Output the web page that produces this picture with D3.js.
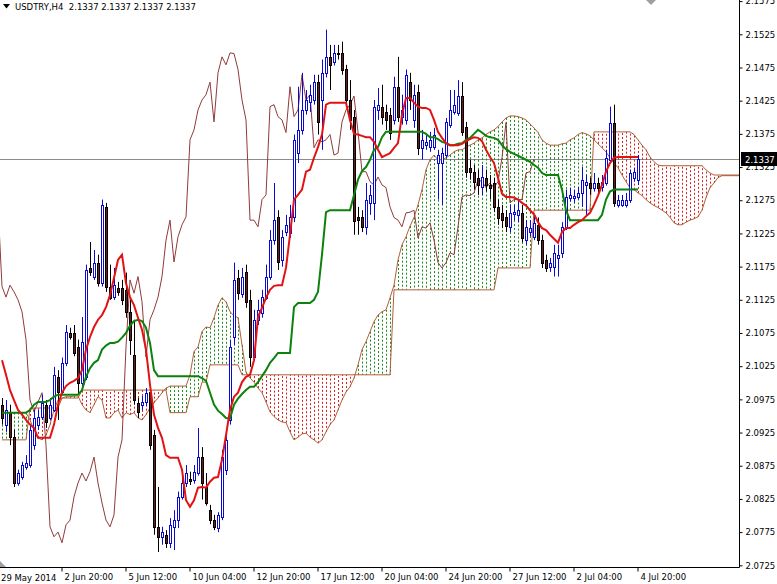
<!DOCTYPE html>
<html><head><meta charset="utf-8">
<script src="https://cdn.jsdelivr.net/npm/d3@7"></script>
<style>body{margin:0;background:#fff}svg{display:block}</style>
</head><body><svg id="c" width="777" height="584"></svg>
<script>
const symbolName = "USDTRY,H4";
const lastPrice = 2.1337;
const firstDateLabel = "29 May 2014";
const timeTickIndex = [15,31,47,63,79,95,111,127,143,159];
const timeTickLabels = ["2 Jun 20:00","5 Jun 12:00","10 Jun 04:00","12 Jun 20:00","17 Jun 12:00","20 Jun 04:00","24 Jun 20:00","27 Jun 12:00","2 Jul 04:00","4 Jul 20:00"];
const priceTicks = [2.0725,2.0775,2.0825,2.0875,2.0925,2.0975,2.1025,2.1075,2.1125,2.1175,2.1225,2.1275,2.1325,2.1375,2.1425,2.1475,2.1525,2.1575];

const opens = [2.0967,2.0937,2.0956,2.0918,2.0849,2.0858,2.0873,2.0876,2.0906,2.0937,
2.0949,2.0967,2.0947,2.0959,2.1009,2.0986,2.1030,2.1075,2.1075,2.1054,
2.1000,2.1009,2.1173,2.1160,2.1181,2.1151,2.1265,2.1145,2.1129,2.1143,
2.1143,2.1140,2.1107,2.1042,2.0970,2.0967,2.0971,2.0986,2.0921,2.0783,
2.0768,2.0771,2.0759,2.0783,2.0793,2.0828,2.0849,2.0855,2.0854,2.0864,
2.0888,2.0843,2.0808,2.0793,2.0781,2.0798,2.0869,2.0944,2.1069,2.1158,
2.1135,2.1167,2.1125,2.1039,2.1095,2.1105,2.1129,2.1160,2.1215,2.1250,
2.1185,2.1227,2.1226,2.1250,2.1346,2.1381,2.1411,2.1423,2.1426,2.1453,
2.1426,2.1467,2.1491,2.1484,2.1497,2.1497,2.1472,2.1426,2.1401,2.1250,
2.1250,2.1235,2.1271,2.1271,2.1411,2.1416,2.1408,2.1404,2.1396,2.1446,
2.1401,2.1396,2.1453,2.1396,2.1438,2.1354,2.1359,2.1356,2.1356,2.1331,
2.1331,2.1343,2.1389,2.1408,2.1407,2.1432,2.1386,2.1324,2.1318,2.1309,
2.1295,2.1309,2.1298,2.1301,2.1265,2.1256,2.1249,2.1235,2.1254,2.1253,
2.1256,2.1215,2.1227,2.1220,2.1238,2.1215,2.1185,2.1175,2.1175,2.1188,
2.1196,2.1235,2.1279,2.1279,2.1280,2.1286,2.1298,2.1301,2.1294,2.1301,
2.1295,2.1301,2.1336,2.1392,2.1268,2.1268,2.1268,2.1276,2.1309,2.1306];
const highs = [2.0977,2.0974,2.0967,2.0929,2.0869,2.0881,2.0891,2.0937,2.0959,2.0959,
2.0982,2.0974,2.0977,2.1024,2.1019,2.1038,2.1087,2.1083,2.1087,2.1065,
2.1099,2.1178,2.1212,2.1200,2.1193,2.1276,2.1271,2.1178,2.1173,2.1152,
2.1155,2.1166,2.1125,2.1095,2.0977,2.0980,2.0992,2.0997,2.0929,2.0843,
2.0783,2.0778,2.0796,2.0808,2.0836,2.0869,2.0876,2.0866,2.0876,2.0932,
2.0903,2.0864,2.0816,2.0801,2.0805,2.0899,2.0926,2.1065,2.1181,2.1170,
2.1173,2.1178,2.1140,2.1110,2.1125,2.1140,2.1178,2.1230,2.1301,2.1260,
2.1230,2.1253,2.1268,2.1374,2.1446,2.1467,2.1441,2.1449,2.1464,2.1464,
2.1487,2.1532,2.1509,2.1509,2.1509,2.1514,2.1479,2.1456,2.1411,2.1265,
2.1260,2.1301,2.1298,2.1426,2.1444,2.1449,2.1419,2.1414,2.1461,2.1491,
2.1434,2.1472,2.1467,2.1449,2.1449,2.1381,2.1374,2.1378,2.1384,2.1351,
2.1354,2.1399,2.1441,2.1441,2.1456,2.1453,2.1393,2.1336,2.1328,2.1321,
2.1328,2.1321,2.1313,2.1309,2.1276,2.1268,2.1260,2.1268,2.1268,2.1276,
2.1268,2.1245,2.1245,2.1253,2.1249,2.1223,2.1193,2.1188,2.1208,2.1208,
2.1242,2.1291,2.1294,2.1291,2.1295,2.1325,2.1313,2.1309,2.1316,2.1309,
2.1313,2.1351,2.1416,2.1419,2.1283,2.1283,2.1286,2.1321,2.1324,2.1343];
const lows = [2.0937,2.0926,2.0906,2.0843,2.0845,2.0854,2.0869,2.0872,2.0899,2.0929,
2.0944,2.0932,2.0944,2.0956,2.0944,2.0982,2.1025,2.1065,2.1040,2.0982,
2.0995,2.1004,2.1161,2.1155,2.1145,2.1145,2.1137,2.1125,2.1125,2.1131,
2.1117,2.1098,2.1042,2.0967,2.0947,2.0959,2.0965,2.0899,2.0771,2.0745,
2.0756,2.0751,2.0751,2.0748,2.0781,2.0824,2.0843,2.0846,2.0848,2.0860,
2.0824,2.0815,2.0787,2.0778,2.0775,2.0793,2.0861,2.0937,2.1057,2.1125,
2.1128,2.1113,2.1024,2.1035,2.1087,2.1098,2.1125,2.1155,2.1208,2.1170,
2.1175,2.1221,2.1218,2.1242,2.1331,2.1374,2.1404,2.1408,2.1419,2.1374,
2.1351,2.1460,2.1441,2.1478,2.1487,2.1464,2.1419,2.1381,2.1223,2.1223,
2.1227,2.1223,2.1253,2.1245,2.1396,2.1389,2.1381,2.1366,2.1389,2.1393,
2.1389,2.1389,2.1411,2.1384,2.1343,2.1336,2.1351,2.1348,2.1351,2.1276,
2.1268,2.1339,2.1384,2.1404,2.1402,2.1372,2.1309,2.1306,2.1291,2.1283,
2.1283,2.1288,2.1276,2.1257,2.1238,2.1233,2.1227,2.1227,2.1245,2.1242,
2.1212,2.1208,2.1221,2.1215,2.1208,2.1173,2.1167,2.1167,2.1160,2.1160,
2.1188,2.1230,2.1273,2.1271,2.1276,2.1265,2.1250,2.1283,2.1288,2.1286,
2.1288,2.1297,2.1331,2.1265,2.1264,2.1265,2.1264,2.1271,2.1303,2.1298];
const closes = [2.0947,2.0959,2.0918,2.0849,2.0864,2.0876,2.0879,2.0929,2.0947,2.0949,
2.0970,2.0941,2.0967,2.1012,2.0986,2.1030,2.1077,2.1069,2.1045,2.1000,
2.1062,2.1170,2.1167,2.1181,2.1151,2.1268,2.1145,2.1129,2.1147,2.1137,
2.1125,2.1107,2.1065,2.0974,2.0956,2.0971,2.0985,2.0906,2.0783,2.0768,
2.0775,2.0759,2.0786,2.0793,2.0828,2.0849,2.0864,2.0852,2.0866,2.0888,
2.0849,2.0819,2.0793,2.0783,2.0801,2.0888,2.0914,2.1054,2.1155,2.1135,
2.1160,2.1122,2.1039,2.1095,2.1110,2.1129,2.1160,2.1215,2.1245,2.1182,
2.1220,2.1238,2.1250,2.1366,2.1381,2.1411,2.1426,2.1434,2.1453,2.1393,
2.1467,2.1491,2.1479,2.1497,2.1496,2.1472,2.1426,2.1396,2.1245,2.1245,
2.1235,2.1276,2.1283,2.1416,2.1419,2.1401,2.1396,2.1377,2.1446,2.1401,
2.1411,2.1464,2.1426,2.1434,2.1354,2.1366,2.1363,2.1366,2.1374,2.1343,
2.1346,2.1393,2.1411,2.1419,2.1432,2.1378,2.1318,2.1318,2.1303,2.1298,
2.1310,2.1298,2.1294,2.1265,2.1249,2.1245,2.1235,2.1256,2.1257,2.1260,
2.1218,2.1235,2.1233,2.1241,2.1215,2.1181,2.1173,2.1181,2.1196,2.1193,
2.1235,2.1280,2.1283,2.1282,2.1286,2.1306,2.1303,2.1294,2.1301,2.1294,
2.1303,2.1339,2.1392,2.1271,2.1276,2.1276,2.1276,2.1316,2.1318,2.1337];

const tenkan = [2.1034,2.1012,2.0989,2.0974,2.0959,2.0952,2.0944,2.0937,2.0932,2.0917,
2.0917,2.0917,2.0917,2.0937,2.0967,2.0985,2.0995,2.1000,2.1003,2.1007,
2.1019,2.1050,2.1069,2.1084,2.1095,2.1102,2.1114,2.1132,2.1158,2.1185,
2.1193,2.1150,2.1129,2.1117,2.1098,2.1080,2.1050,2.0997,2.0952,2.0932,
2.0917,2.0891,2.0887,2.0887,2.0887,2.0869,2.0823,2.0813,2.0823,2.0842,
2.0843,2.0842,2.0851,2.0857,2.0858,2.0884,2.0921,2.0959,2.0979,2.0985,
2.1001,2.1009,2.1012,2.1034,2.1099,2.1113,2.1128,2.1140,2.1146,2.1147,
2.1147,2.1173,2.1223,2.1276,2.1283,2.1291,2.1318,2.1321,2.1339,2.1355,
2.1374,2.1419,2.1422,2.1422,2.1422,2.1422,2.1422,2.1396,2.1375,2.1374,
2.1372,2.1370,2.1370,2.1363,2.1351,2.1340,2.1343,2.1346,2.1354,2.1361,
2.1404,2.1429,2.1429,2.1422,2.1416,2.1414,2.1414,2.1411,2.1396,2.1378,
2.1369,2.1361,2.1358,2.1358,2.1358,2.1360,2.1364,2.1367,2.1370,2.1369,
2.1364,2.1351,2.1340,2.1331,2.1309,2.1285,2.1280,2.1280,2.1279,2.1276,
2.1271,2.1267,2.1260,2.1254,2.1242,2.1233,2.1230,2.1223,2.1217,2.1211,
2.1227,2.1233,2.1233,2.1238,2.1242,2.1245,2.1251,2.1256,2.1268,2.1282,
2.1298,2.1318,2.1331,2.1339,2.1340,2.1340,2.1340,2.1340,2.1340,2.1340];
const kijun = [2.0955,2.0955,2.0955,2.0955,2.0955,2.0955,2.0955,2.0959,2.0967,2.0971,
2.0971,2.0971,2.0974,2.0979,2.0982,2.0982,2.0982,2.0982,2.0982,2.0982,
2.0989,2.1009,2.1022,2.1030,2.1034,2.1050,2.1056,2.1060,2.1060,2.1062,
2.1068,2.1075,2.1086,2.1093,2.1095,2.1093,2.1083,2.1060,2.1019,2.1010,
2.1010,2.1010,2.1010,2.1010,2.1010,2.1010,2.1010,2.1010,2.1010,2.1010,
2.1007,2.1003,2.0985,2.0967,2.0958,2.0953,2.0947,2.0946,2.0967,2.0976,
2.0983,2.0989,2.0994,2.0994,2.1001,2.1010,2.1019,2.1030,2.1037,2.1045,
2.1045,2.1045,2.1045,2.1114,2.1120,2.1120,2.1120,2.1120,2.1125,2.1137,
2.1193,2.1257,2.1260,2.1260,2.1260,2.1260,2.1260,2.1260,2.1283,2.1306,
2.1319,2.1325,2.1336,2.1351,2.1355,2.1370,2.1378,2.1378,2.1378,2.1378,
2.1378,2.1378,2.1378,2.1378,2.1378,2.1378,2.1375,2.1370,2.1370,2.1367,
2.1363,2.1361,2.1358,2.1358,2.1360,2.1361,2.1366,2.1369,2.1375,2.1381,
2.1377,2.1372,2.1370,2.1369,2.1366,2.1358,2.1352,2.1348,2.1345,2.1342,
2.1339,2.1336,2.1333,2.1328,2.1324,2.1316,2.1313,2.1313,2.1313,2.1313,
2.1291,2.1260,2.1245,2.1245,2.1245,2.1245,2.1245,2.1245,2.1245,2.1245,
2.1253,2.1276,2.1288,2.1291,2.1291,2.1291,2.1291,2.1291,2.1291,2.1291];
// leading spans: 160 bars + 26 projected bars
const senkouA = [2.0955,2.0955,2.0955,2.0955,2.0955,2.0955,2.0955,2.0944,2.0929,2.0917,
2.0914,2.0921,2.0937,2.0959,2.0974,2.0977,2.0979,2.0979,2.0980,2.0980,
2.0967,2.0959,2.0955,2.0967,2.0979,2.0974,2.0947,2.0947,2.0955,2.0959,
2.0947,2.0955,2.0952,2.0955,2.0947,2.0944,2.0952,2.0962,2.0970,2.0977,
2.0985,2.0992,2.0995,2.0995,2.0995,2.0995,2.0995,2.1012,2.1047,2.1054,
2.1077,2.1084,2.1083,2.1098,2.1117,2.1128,2.1122,2.1107,2.1101,2.1098,
2.1057,2.1016,2.1007,2.1001,2.0992,2.0985,2.0971,2.0956,2.0949,2.0944,
2.0941,2.0940,2.0926,2.0914,2.0918,2.0923,2.0924,2.0918,2.0914,2.0909,
2.0914,2.0926,2.0937,2.0944,2.0959,2.0974,2.0986,2.0994,2.1007,2.1027,
2.1050,2.1062,2.1077,2.1092,2.1102,2.1107,2.1110,2.1128,2.1147,2.1185,
2.1208,2.1220,2.1236,2.1249,2.1268,2.1291,2.1321,2.1336,2.1343,2.1336,
2.1336,2.1339,2.1343,2.1348,2.1351,2.1351,2.1355,2.1358,2.1361,2.1366,
2.1369,2.1374,2.1378,2.1381,2.1386,2.1393,2.1399,2.1402,2.1402,2.1401,
2.1399,2.1396,2.1390,2.1384,2.1377,2.1366,2.1361,2.1358,2.1358,2.1358,
2.1360,2.1361,2.1366,2.1369,2.1374,2.1377,2.1375,2.1372,2.1366,2.1360,
2.1354,2.1348,2.1339,2.1331,2.1324,2.1313,2.1303,2.1294,2.1291,2.1286,
2.1282,2.1276,2.1271,2.1267,2.1264,2.1260,2.1256,2.1249,2.1241,2.1238,
2.1238,2.1242,2.1245,2.1247,2.1250,2.1260,2.1279,2.1294,2.1301,2.1309,
2.1312,2.1312,2.1312,2.1312,2.1312,2.1312];
const senkouB = [2.0914,2.0914,2.0914,2.0914,2.0914,2.0914,2.0914,2.0962,2.0962,2.0962,
2.0962,2.0962,2.0962,2.0962,2.0962,2.0977,2.0977,2.0977,2.0977,2.0977,
2.0989,2.0989,2.0989,2.0989,2.0989,2.0989,2.0989,2.0989,2.0989,2.0989,
2.0989,2.0989,2.0989,2.0989,2.0989,2.0989,2.0989,2.0989,2.0989,2.0989,
2.0989,2.0989,2.0955,2.0955,2.0955,2.0955,2.0955,2.0979,2.0979,2.0979,
2.1001,2.1001,2.1027,2.1027,2.1027,2.1027,2.1027,2.1027,2.1027,2.1027,
2.1012,2.1012,2.1012,2.1012,2.1012,2.1012,2.1012,2.1012,2.1012,2.1012,
2.1012,2.1012,2.1012,2.1012,2.1012,2.1012,2.1012,2.1012,2.1012,2.1012,
2.1012,2.1012,2.1012,2.1012,2.1012,2.1012,2.1012,2.1012,2.1012,2.1012,
2.1012,2.1012,2.1012,2.1012,2.1012,2.1012,2.1012,2.1012,2.1140,2.1140,
2.1140,2.1140,2.1140,2.1140,2.1140,2.1140,2.1140,2.1140,2.1140,2.1140,
2.1140,2.1140,2.1140,2.1140,2.1140,2.1140,2.1140,2.1140,2.1140,2.1140,
2.1140,2.1140,2.1140,2.1140,2.1173,2.1173,2.1173,2.1173,2.1173,2.1173,
2.1173,2.1173,2.1173,2.1260,2.1260,2.1260,2.1260,2.1260,2.1260,2.1260,
2.1260,2.1260,2.1260,2.1260,2.1260,2.1260,2.1260,2.1260,2.1378,2.1378,
2.1378,2.1378,2.1378,2.1378,2.1378,2.1378,2.1378,2.1378,2.1374,2.1366,
2.1358,2.1351,2.1340,2.1333,2.1328,2.1327,2.1327,2.1327,2.1327,2.1327,
2.1327,2.1327,2.1327,2.1327,2.1327,2.1327,2.1321,2.1316,2.1313,2.1313,
2.1313,2.1313,2.1313,2.1313,2.1313,2.1313];
const chikouShift = 26;

const PR = 739, PB = 567;
const svg = d3.select("#c");
svg.append("rect").attr("width",777).attr("height",584).attr("fill","#fff");
const x = d3.scaleLinear().domain([0, 159]).range([2, 638]);
const y = d3.scaleLinear().domain([2.0725, 2.1525]).range([565.3, 34.3]);
svg.append("defs").append("clipPath").attr("id","clip").append("rect")
  .attr("x",0).attr("y",0).attr("width",PR).attr("height",PB);
const g = svg.append("g").attr("clip-path","url(#clip)");

// price line
g.append("line").attr("x1",0).attr("x2",PR).attr("y1",Math.round(y(lastPrice))+0.5).attr("y2",Math.round(y(lastPrice))+0.5)
  .attr("stroke","#8c8c8c").attr("stroke-width",1);

// cloud hatch
const cIdx = d3.range(senkouA.length);
g.append("g").selectAll("line").data(cIdx).join("line")
  .attr("x1", i => Math.round(x(i)) + 0.5).attr("x2", i => Math.round(x(i)) + 0.5)
  .attr("y1", i => y(senkouA[i])).attr("y2", i => y(senkouB[i]))
  .attr("stroke", i => senkouA[i] >= senkouB[i] ? "#1a8a1a" : "#d81e1e")
  .attr("stroke-width", 1).attr("stroke-dasharray", "2,2");

const mkLine = arr => d3.line().x((d,i)=>x(i)).y(d=>y(d))(arr);
g.append("path").attr("d", mkLine(senkouA)).attr("fill","none").attr("stroke","#b0603a").attr("stroke-width",1);
g.append("path").attr("d", mkLine(senkouB)).attr("fill","none").attr("stroke","#b0603a").attr("stroke-width",1);

// chikou: closes displaced back
g.append("path").attr("d", d3.line().x((d,i)=>x(i - chikouShift)).y(d=>y(d))(closes))
  .attr("fill","none").attr("stroke","#8f3b3b").attr("stroke-width",1);

// candles
const bars = d3.range(closes.length);
const cg = g.append("g");
cg.selectAll("line.w").data(bars).join("line")
  .attr("x1", i => Math.round(x(i)) + 0.5).attr("x2", i => Math.round(x(i)) + 0.5)
  .attr("y1", i => y(highs[i])).attr("y2", i => y(lows[i]))
  .attr("stroke", i => closes[i] >= opens[i] ? "#0a0ad0" : "#000");
cg.selectAll("rect").data(bars).join("rect")
  .attr("x", i => Math.round(x(i)) - 0.5)
  .attr("y", i => Math.round(y(Math.max(opens[i], closes[i]))) + 0.5)
  .attr("width", 2)
  .attr("height", i => Math.max(0.5, Math.round(Math.abs(y(opens[i]) - y(closes[i])))))
  .attr("fill", i => closes[i] >= opens[i] ? "#fff" : "#6a1c1c")
  .attr("stroke", i => closes[i] >= opens[i] ? "#0a0ad0" : "#000")
  .attr("stroke-width", 1);

// tenkan & kijun
g.append("path").attr("d", mkLine(kijun)).attr("fill","none").attr("stroke","#0b820b").attr("stroke-width",2);
g.append("path").attr("d", mkLine(tenkan)).attr("fill","none").attr("stroke","#e31212").attr("stroke-width",2);

// axes
svg.append("line").attr("x1",PR+0.5).attr("x2",PR+0.5).attr("y1",0).attr("y2",PB+0.5).attr("stroke","#000");
svg.append("line").attr("x1",0).attr("x2",PR+0.5).attr("y1",PB+0.5).attr("y2",PB+0.5).attr("stroke","#000");

const ya = svg.append("g").attr("transform",`translate(${PR+0.5},0)`)
  .call(d3.axisRight(y).tickValues(priceTicks).tickSize(3).tickPadding(3).tickFormat(d3.format(".4f")));
ya.select(".domain").remove();
ya.selectAll("text").attr("font-family","DejaVu Sans, sans-serif").attr("font-size","8.5px").attr("fill","#000");
ya.selectAll("line").attr("stroke","#000");

const xa = svg.append("g").attr("transform",`translate(0,${PB+0.5})`)
  .call(d3.axisBottom(x).tickValues(timeTickIndex).tickSize(4).tickFormat((d,k)=>timeTickLabels[k]));
xa.select(".domain").remove();
xa.selectAll(".tick line").attr("stroke","#000").attr("transform","translate(-0.5,0)");
xa.selectAll("text").attr("text-anchor","start").attr("x",2).attr("y",6)
  .attr("font-family","DejaVu Sans, sans-serif").attr("font-size","8.5px").attr("fill","#000");
svg.append("text").attr("x",1).attr("y",PB+13.5).text(firstDateLabel)
  .attr("font-family","DejaVu Sans, sans-serif").attr("font-size","8.5px").attr("fill","#000");

// current price label
const yl = Math.round(y(lastPrice));
svg.append("rect").attr("x",PR+2).attr("y",yl-7).attr("width",777-PR-2).attr("height",14).attr("fill","#000");
svg.append("text").attr("x",PR+6).attr("y",yl+3.5).text(d3.format(".4f")(lastPrice))
  .attr("font-family","DejaVu Sans, sans-serif").attr("font-size","8.5px").attr("fill","#fff");

// title
svg.append("path").attr("d","M3,4 L10,4 L6.5,8.5 Z").attr("fill","#000");
svg.append("text").attr("x",15).attr("y",10).attr("style","white-space:pre")
  .attr("font-family","DejaVu Sans, sans-serif").attr("font-size","8.5px").attr("fill","#000")
  .text(`${symbolName}  ${[lastPrice,lastPrice,lastPrice,lastPrice].map(d3.format(".4f")).join(" ")}`);

// chart shift marker & corner marker
svg.append("path").attr("d","M646,0 L656,0 L651,5 Z").attr("fill","#a0a0a0");
svg.append("path").attr("d","M0,561 L0,567 L6,567 Z").attr("fill","#a0a0a0");
</script></body></html>
